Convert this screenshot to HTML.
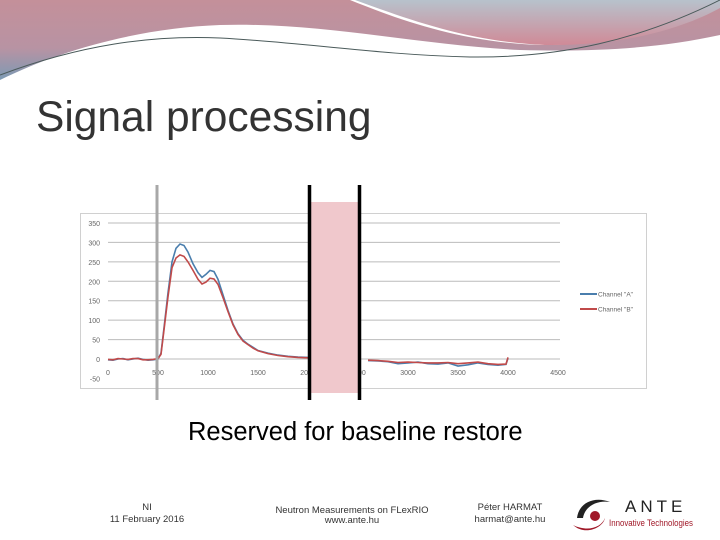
<!DOCTYPE html>
<html><head><meta charset="utf-8">
<style>
body{margin:0;width:720px;height:540px;overflow:hidden;background:#fff;font-family:"Liberation Sans",sans-serif;position:relative}
.abs{position:absolute}
</style></head>
<body>
<svg class="abs" style="left:0;top:0" width="720" height="90">
<defs>
<linearGradient id="g1" x1="0" y1="0" x2="0" y2="1"><stop offset="0" stop-color="#c4909a"/><stop offset="0.6" stop-color="#b893a3"/><stop offset="1" stop-color="#7c9ab4"/></linearGradient>
<linearGradient id="g2" x1="0" y1="0" x2="0" y2="1"><stop offset="0" stop-color="#b7c2cc"/><stop offset="1" stop-color="#d08a97"/></linearGradient>
</defs>
<path d="M0,0 H720 V35 C660,48 600,52 520,50 C420,45 320,22 220,25 C140,28 60,50 0,80 Z" fill="url(#g1)"/>
<path d="M320,0 H720 V5 C680,25 620,45 540,45 C460,42 400,20 350,0 Z" fill="#fff"/>
<path d="M345,0 H720 V8 C680,30 620,46 545,45 C470,42 410,20 355,0 Z" fill="url(#g2)"/>
<path d="M0,75 C80,45 150,35 220,38 C300,42 380,55 470,57 C560,58 640,40 720,0" fill="none" stroke="#4a5a5a" stroke-width="1"/>
</svg>
<div class="abs" style="left:36px;top:94px;font-size:42.5px;color:#333">Signal processing</div>

<svg class="abs" style="left:0;top:0" width="720" height="540" id="chart"></svg>

<div class="abs" style="left:188px;top:418px;font-size:25.5px;color:#000;white-space:nowrap">Reserved for baseline restore</div>
<div class="abs" style="left:95px;width:104px;top:502px;text-align:center;font-size:9.5px;color:#333;line-height:12px">NI<br>11 February 2016</div>
<div class="abs" style="left:262px;width:180px;top:506px;text-align:center;font-size:9.5px;color:#333;line-height:10px">Neutron Measurements on FLexRIO<br>www.ante.hu</div>
<div class="abs" style="left:460px;width:100px;top:502px;text-align:center;font-size:9.5px;color:#333;line-height:12px">Péter HARMAT<br>harmat@ante.hu</div>
<svg class="abs" style="left:565px;top:490px" width="140" height="45">
<path d="M12,28 C14,12 30,6 45,12 C32,10 20,16 18,28 Z" fill="#222"/>
<circle cx="30" cy="26" r="5" fill="#a01828"/>
<path d="M8,35 C20,46 38,38 40,28 C36,38 22,42 8,35 Z" fill="#a01828"/>
<text x="60" y="22" font-size="17" fill="#222" letter-spacing="4">ANTE</text>
<text x="44" y="36" font-size="9" fill="#a01828" textLength="84" lengthAdjust="spacingAndGlyphs">Innovative Technologies</text>
</svg>

<script>
const xTicks=[0,500,1000,1500,2000,2500,3000,3500,4000,4500];
const yTicks=[350,300,250,200,150,100,50,0,-50];
const sampleX=[0,50,100,150,200,250,300,350,400,450,500,530,560,600,640,680,720,760,800,850,900,940,980,1020,1060,1100,1150,1200,1250,1300,1350,1400,1450,1500,1600,1700,1800,1900,2000,2100,2200,2300,2400,2500,2600,2700,2800,2900,3000,3100,3200,3300,3400,3500,3600,3700,3800,3900,3980,4000];
const channelA=[-2,-3,0,1,-2,0,2,-1,-3,-2,0,15,80,170,250,285,296,292,275,245,222,210,218,228,225,205,165,125,90,65,48,38,30,22,15,10,7,5,4,3,2,1,0,-2,-4,-5,-7,-12,-10,-8,-12,-13,-10,-18,-15,-10,-14,-16,-14,2];
const channelB=[-1,-2,1,0,-1,1,1,-2,-2,-1,1,12,75,160,235,260,268,264,250,228,205,193,198,208,206,192,158,122,88,63,46,37,28,21,14,9,6,4,3,2,1,0,-1,-2,-3,-4,-6,-9,-8,-9,-10,-10,-9,-12,-10,-8,-12,-14,-13,4];
const seriesNames=['Channel "A"','Channel "B"'];
const gapStart=2050, gapEnd=2520;

const NS='http://www.w3.org/2000/svg';
const svg=document.getElementById('chart');
const X0=108,X1=558,Y0=359,Ypu=136/350;
const sx=v=>X0+(v/4500)*(X1-X0);
const sy=v=>Y0-v*Ypu;
function mk(t,a){const e=document.createElementNS(NS,t);for(const k in a)e.setAttribute(k,a[k]);svg.appendChild(e);return e;}

let box=mk('rect',{x:80.5,y:213.5,width:566,height:175,fill:'#fff',stroke:'#d0d0d0'});


yTicks.forEach(v=>{
  if(v>=0){let l=mk('line',{x1:X0,x2:X1+2,y1:sy(v),y2:sy(v),stroke:'#bbb','stroke-width':1});
  
  }
  let t=mk('text',{x:100,y:sy(v)+3,'font-size':7,fill:'#666','text-anchor':'end'});t.textContent=v;
  
  
});
xTicks.forEach(v=>{
  let t=mk('text',{x:sx(v),y:375,'font-size':7,fill:'#666','text-anchor':'middle'});t.textContent=v;
  
  
});
function line(vals,color,name){
  let d='';let pen=false;
  sampleX.forEach((x,i)=>{
    if(x>gapStart&&x<gapEnd){pen=false;return;}
    d+=(pen?'L':'M')+sx(x).toFixed(1)+','+sy(vals[i]).toFixed(1);pen=true;
  });
  let p=mk('path',{d:d,fill:'none',stroke:color,'stroke-width':1.6});
  
  
}
line(channelA,'#4a7ead','series-channel-a');
line(channelB,'#c04a4a','series-channel-b');
[['#4a7ead',294],['#c04a4a',309]].forEach((c,i)=>{
  let l=mk('line',{x1:580,x2:597,y1:c[1],y2:c[1],stroke:c[0],'stroke-width':2});
  
  
  let t=mk('text',{x:598,y:c[1]+2.5,'font-size':6.5,fill:'#666'});t.textContent=seriesNames[i];
  
  
});
let g=mk('line',{x1:157,x2:157,y1:185,y2:400,stroke:'#a8a8a8','stroke-width':3});


let pk=mk('rect',{x:311,y:202,width:47,height:191,fill:'#f0c8cc'});


[309.5,359.5].forEach(x=>{
  let b=mk('line',{x1:x,x2:x,y1:185,y2:400,stroke:'#000','stroke-width':3.5});
  
  
});
</script>
</body></html>
